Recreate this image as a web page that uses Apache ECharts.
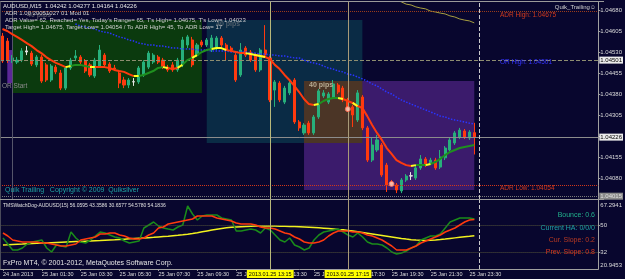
<!DOCTYPE html>
<html>
<head>
<meta charset="utf-8">
<script src="https://cdn.jsdelivr.net/npm/echarts@6.0.0/dist/echarts.min.js"></script>
<style>
html,body{margin:0;padding:0;background:#08062e;overflow:hidden}
#chart{width:625px;height:279px}
</style>
</head>
<body>
<div id="chart"></div>
<script>
// ================= DATA =================
// AUDUSD M15 candles, first bar = 24 Jan 2013 23:30
const barOpen = [
1.04587,1.04569,1.04498,1.04494,1.04501,1.04530,1.04526,1.04484,1.04512,1.04484,
1.04430,1.04476,1.04455,1.04401,1.04473,1.04509,1.04512,1.04498,1.04484,1.04444,
1.04480,1.04519,1.04487,1.04473,1.04455,1.04430,1.04412,1.04423,1.04423,1.04448,
1.04476,1.04494,1.04512,1.04501,1.04476,1.04484,1.04466,1.04484,1.04555,1.04573,
1.04519,1.04566,1.04555,1.04537,1.04544,1.04580,1.04555,1.04544,1.04519,1.04448,
1.04544,1.04530,1.04519,1.04466,1.04537,1.04509,1.04394,1.04419,1.04351,1.04384,
1.04430,1.04280,1.04241,1.04276,1.04241,1.04298,1.04373,1.04351,1.04369,1.04412,
1.04401,1.04359,1.04334,1.04287,1.04369,1.04259,1.04144,1.04180,1.04198,1.04126,
1.04066,1.04055,1.04034,1.04073,1.04087,1.04080,1.04116,1.04148,1.04134,1.04144,
1.04119,1.04152,1.04180,1.04205,1.04226,1.04248,1.04223,1.04242];
const barClose = [
1.04498,1.04501,1.04509,1.04501,1.04534,1.04534,1.04487,1.04512,1.04426,1.04430,
1.04480,1.04459,1.04401,1.04473,1.04501,1.04516,1.04494,1.04462,1.04448,1.04501,
1.04537,1.04484,1.04462,1.04469,1.04419,1.04412,1.04430,1.04424,1.04473,1.04494,
1.04526,1.04519,1.04494,1.04476,1.04466,1.04466,1.04501,1.04573,1.04584,1.04484,
1.04555,1.04555,1.04573,1.04580,1.04580,1.04555,1.04537,1.04537,1.04430,1.04537,
1.04519,1.04501,1.04466,1.04537,1.04519,1.04359,1.04423,1.04359,1.04401,1.04419,
1.04280,1.04259,1.04269,1.04241,1.04298,1.04391,1.04384,1.04380,1.04416,1.04387,
1.04359,1.04330,1.04305,1.04384,1.04259,1.04144,1.04198,1.04216,1.04091,1.04055,
1.04059,1.04037,1.04073,1.04087,1.04088,1.04116,1.04148,1.04126,1.04144,1.04116,
1.04155,1.04187,1.04216,1.04241,1.04251,1.04226,1.04244,1.04226];
const barLow = [
1.04491,1.04491,1.04491,1.04487,1.04494,1.04519,1.04480,1.04476,1.04419,1.04423,
1.04423,1.04451,1.04394,1.04394,1.04466,1.04501,1.04487,1.04455,1.04441,1.04437,
1.04473,1.04476,1.04455,1.04462,1.04401,1.04401,1.04401,1.04409,1.04416,1.04441,
1.04469,1.04487,1.04487,1.04469,1.04459,1.04459,1.04459,1.04476,1.04544,1.04476,
1.04512,1.04548,1.04548,1.04530,1.04537,1.04548,1.04501,1.04530,1.04423,1.04441,
1.04512,1.04494,1.04459,1.04459,1.04512,1.04351,1.04334,1.04351,1.04344,1.04376,
1.04273,1.04248,1.04234,1.04234,1.04234,1.04291,1.04366,1.04344,1.04362,1.04380,
1.04351,1.04316,1.04262,1.04280,1.04251,1.04137,1.04137,1.04173,1.04084,1.04030,
1.04051,1.04026,1.04026,1.04066,1.04073,1.04073,1.04109,1.04119,1.04126,1.04109,
1.04112,1.04144,1.04173,1.04198,1.04219,1.04219,1.04216,1.04164];
const barHigh = [
1.04598,1.04580,1.04519,1.04512,1.04544,1.04551,1.04534,1.04519,1.04519,1.04491,
1.04487,1.04484,1.04466,1.04480,1.04509,1.04537,1.04519,1.04505,1.04491,1.04509,
1.04555,1.04526,1.04494,1.04484,1.04462,1.04441,1.04437,1.04437,1.04480,1.04501,
1.04534,1.04526,1.04519,1.04509,1.04484,1.04494,1.04509,1.04584,1.04591,1.04584,
1.04562,1.04573,1.04580,1.04591,1.04587,1.04587,1.04562,1.04551,1.04526,1.04562,
1.04551,1.04537,1.04526,1.04544,1.04626,1.04516,1.04430,1.04426,1.04409,1.04426,
1.04437,1.04287,1.04276,1.04284,1.04305,1.04398,1.04394,1.04387,1.04430,1.04419,
1.04409,1.04366,1.04341,1.04394,1.04376,1.04266,1.04223,1.04234,1.04205,1.04134,
1.04073,1.04062,1.04080,1.04094,1.04101,1.04123,1.04162,1.04155,1.04152,1.04152,
1.04180,1.04194,1.04223,1.04248,1.04259,1.04255,1.04251,1.04277];
const dojiBars = [5, 27, 84];

// fast moving average and its trend colour (r = falling, y = turning, g = rising)
const fastMA = [
1.04612,1.04605,1.04594,1.04584,1.04573,1.04562,1.04551,1.04537,1.04526,1.04512,
1.04501,1.04491,1.04484,1.04476,1.04480,1.04484,1.04484,1.04480,1.04476,1.04476,
1.04476,1.04476,1.04473,1.04466,1.04462,1.04459,1.04451,1.04444,1.04444,1.04448,
1.04455,1.04462,1.04473,1.04476,1.04473,1.04469,1.04473,1.04484,1.04501,1.04509,
1.04519,1.04530,1.04537,1.04541,1.04544,1.04544,1.04537,1.04534,1.04530,1.04526,
1.04526,1.04523,1.04519,1.04516,1.04512,1.04505,1.04484,1.04469,1.04448,1.04430,
1.04409,1.04387,1.04362,1.04344,1.04341,1.04344,1.04355,1.04362,1.04366,1.04366,
1.04362,1.04355,1.04348,1.04337,1.04330,1.04301,1.04269,1.04241,1.04216,1.04187,
1.04166,1.04144,1.04134,1.04126,1.04123,1.04126,1.04126,1.04126,1.04130,1.04137,
1.04148,1.04162,1.04173,1.04180,1.04187,1.04191,1.04194,1.04198];
const fastMATrend = 'rrrrrrrrrrrrrygggg' + 'yrrrrrrrryggggg' + 'yrrygg' + 'ygggygy' + 'rrrryyry' + 'rrrrrrrrrryggggyrry' + 'rrrrrrrrrrryggy' + 'gggggggggg';

// slow moving average (blue dotted), starts at bar 15
const slowMA = [
null,null,null,null,null,null,null,null,null,null,null,null,null,null,null,
1.04630,1.04623,1.04619,1.04616,1.04612,1.04605,1.04601,1.04598,1.04591,1.04584,
1.04580,1.04573,1.04569,1.04562,1.04559,1.04555,1.04555,1.04551,1.04551,1.04548,
1.04544,1.04544,1.04541,1.04541,1.04541,1.04537,1.04537,1.04537,1.04534,1.04534,
1.04534,1.04534,1.04530,1.04530,1.04530,1.04530,1.04526,1.04526,1.04523,1.04523,
1.04519,1.04519,1.04516,1.04516,1.04512,1.04509,1.04509,1.04501,1.04494,1.04491,
1.04487,1.04480,1.04473,1.04469,1.04462,1.04459,1.04451,1.04448,1.04441,1.04434,
1.04426,1.04416,1.04409,1.04398,1.04387,1.04380,1.04369,1.04359,1.04351,1.04344,
1.04337,1.04330,1.04323,1.04316,1.04309,1.04301,1.04298,1.04291,1.04287,1.04284,
1.04280,1.04276,1.04273];

// long moving average (olive), enters from the top at bar 81
const longMA = [
null,null,null,null,null,null,null,null,null,null,null,null,null,null,null,null,null,null,null,null,
null,null,null,null,null,null,null,null,null,null,null,null,null,null,null,null,null,null,null,null,
null,null,null,null,null,null,null,null,null,null,null,null,null,null,null,null,null,null,null,null,
null,null,null,null,null,null,null,null,null,null,null,null,null,null,null,null,null,null,null,null,
null,1.04716,1.04709,1.04701,1.04698,1.04691,1.04687,1.04684,1.04676,1.04673,1.04669,
1.04666,1.04659,1.04655,1.04648,1.04644,1.04641,1.04634];

// TMSWatchDog indicator lines
const wdGreen = [
41.77,37.74,33.71,33.71,35.05,37.74,39.08,39.75,40.43,35.05,
32.37,37.07,36.40,35.72,45.80,41.77,39.08,38.41,40.43,43.11,
45.80,45.13,43.78,42.44,41.77,39.75,38.41,39.08,39.75,48.49,
50.50,52.52,49.83,48.49,47.81,47.14,49.16,50.50,63.27,57.89,
53.86,56.55,57.22,57.22,57.22,55.20,54.53,53.86,46.47,46.47,
47.14,47.81,47.14,45.13,48.49,47.14,43.78,40.43,39.08,41.77,
37.07,35.72,33.71,35.05,40.43,43.78,45.80,46.47,47.14,47.81,
45.80,43.78,42.44,45.13,42.44,39.08,37.74,37.74,37.07,35.05,
32.37,31.02,31.69,33.04,35.05,36.40,40.43,41.77,43.11,43.11,
44.46,48.49,52.52,53.86,55.20,55.20,55.20,54.58];
const wdRed = [
45.13,43.11,40.43,39.75,39.08,39.08,39.08,39.08,38.41,38.41,
37.74,37.07,36.40,36.40,37.07,37.74,40.43,41.10,41.77,42.44,
44.46,44.46,45.13,45.13,43.78,43.11,41.77,41.10,41.10,41.77,
43.78,45.13,48.49,49.16,51.18,51.85,52.52,53.19,53.86,54.53,
56.55,56.55,56.55,56.55,55.20,54.53,53.86,53.19,51.85,51.18,
51.18,51.18,50.50,49.16,48.49,48.49,47.81,46.47,45.13,44.46,
42.44,41.10,39.08,38.41,38.41,39.08,40.43,43.11,45.13,46.47,
46.47,46.47,45.80,45.80,45.13,43.78,43.11,41.77,40.43,38.41,
36.40,33.71,33.71,33.71,35.05,36.40,38.41,39.75,41.10,42.44,
43.78,45.80,47.14,48.49,50.50,52.52,53.86,54.18];
const wdYellow = [
37.07,37.20,37.40,37.60,37.74,37.90,38.05,38.20,38.35,38.45,
38.60,38.75,38.90,39.05,39.20,39.35,39.50,39.65,39.80,39.95,
40.10,40.30,40.45,40.60,40.80,41.00,41.20,41.40,41.60,41.80,
42.00,42.20,42.45,42.70,42.95,43.25,43.55,43.90,44.30,44.75,
45.30,45.90,46.50,47.10,47.70,48.20,48.60,48.95,49.20,49.40,
49.55,49.70,49.80,49.85,49.85,49.80,49.75,49.70,49.65,49.55,
49.45,49.30,49.15,49.00,48.80,48.60,48.35,48.10,47.85,47.55,
47.30,46.85,46.40,45.95,45.50,45.00,44.50,44.00,43.50,43.00,
42.50,42.00,41.50,41.05,40.65,40.35,40.20,40.15,40.20,40.40,
40.70,41.05,41.45,41.85,42.25,42.65,43.00,43.36];

// axis ticks
const timeTickIndex = [0, 8, 16, 24, 32, 40, 48, 56, 64, 72, 80, 88, 96];
const timeTickLabels = ['24 Jan 2013','25 Jan 01:30','25 Jan 03:30','25 Jan 05:30','25 Jan 07:30',
  '25 Jan 09:30','25 Jan 11:30','25 Jan 13:30','25 Jan 15:30','25 Jan 17:30','25 Jan 19:30',
  '25 Jan 21:30','25 Jan 23:30'];
const priceMin = 1.04005, priceStep = 0.00075, priceMax = 1.0470857;
const indMin = 20.9453, indMax = 67.2941;
const indTickValues = [20.9453, 32, 50, 67.2941];

// chart objects (time index / price)
const levelADRHigh = 1.04675, levelOR = 1.04501, levelBid = 1.04226, levelADRLow = 1.04054, levelBottom = 1.04015;
const vLineIndex = [55, 71];
const vLineLabels = ['2013.01.25 13:15', '2013.01.25 17:15'];
const daySeparatorIndex = 98;
const orStartIndex = 2;
const orBox = [2, 41, 1.04644, 1.04384];
const sessionBox = [42, 74, 1.04644, 1.04205];
const pipsBox = [62, 97, 1.04426, 1.04037];
const orStrip = [1, 2, 1.04537, 1.04419];
const signalIndex = [71, 80];
const signalPrice = [1.04326, 1.04059];

// ================= BUILD =================
const N_CAT = 123;
const cats = [];
for (let i = 0; i < N_CAT; i++) {
  const m = 23 * 60 + 30 + 15 * i;
  const d = 24 + Math.floor(m / 1440);
  const mm = m % 1440;
  cats.push(d + ' Jan ' + String(Math.floor(mm / 60)).padStart(2, '0') + ':' + String(mm % 60).padStart(2, '0'));
}
const tickMap = new Map(timeTickIndex.map((k, j) => [k, timeTickLabels[j]]));

const BULL = '#27b07b', BEAR = '#ff3a0e', DOJI = '#e6e6e6';
const candles = barOpen.map((o, i) => {
  const v = [o, barClose[i], barLow[i], barHigh[i]];
  if (dojiBars.includes(i)) return { value: v, itemStyle: { color: DOJI, color0: DOJI, borderColor: DOJI, borderColor0: DOJI } };
  return v;
});

function trendPart(code) {
  return fastMA.map((v, i) => {
    const a = fastMATrend[i] === code;
    const b = i > 0 && fastMATrend[i - 1] === code;
    return (a || b) ? v : null;
  });
}

const FONT = 'Liberation Sans';
function box(b, color) {
  return [{ xAxis: b[0], yAxis: b[2], itemStyle: { color: color } }, { xAxis: b[1], yAxis: b[3] }];
}
// intersection of session box and pips box
const overlap = [Math.max(sessionBox[0], pipsBox[0]), Math.min(sessionBox[1], pipsBox[1]),
  Math.min(sessionBox[2], pipsBox[2]), Math.max(sessionBox[3], pipsBox[3])];

const priceTag = (bg, fg) => ({
  show: true, position: 'end', distance: 1, fontSize: 6, fontFamily: FONT,
  color: fg, backgroundColor: bg, padding: [1, 1, 0, 1],
  formatter: p => Number(p.value).toFixed(5)
});

const nulls = cats.map(() => null);

const option = {
  backgroundColor: '#08062e',
  animation: false,
  grid: [
    { left: -2.2, right: 21, top: 2, bottom: 80 },
    { left: -2.2, right: 21, top: 200, bottom: 10 }
  ],
  xAxis: [
    { type: 'category', gridIndex: 0, data: cats, boundaryGap: true,
      axisLine: { show: false }, axisTick: { show: false }, axisLabel: { show: false }, splitLine: { show: false } },
    { type: 'category', gridIndex: 1, data: cats, boundaryGap: true,
      axisLine: { show: true, lineStyle: { color: '#a0a0a0', width: 1 } },
      axisTick: { show: true, length: 2, alignWithLabel: true, interval: i => tickMap.has(i), lineStyle: { color: '#a0a0a0' } },
      axisLabel: { show: true, interval: i => tickMap.has(i), formatter: (v, i) => tickMap.get(i) || '',
        align: 'left', margin: 2, fontSize: 5.5, fontFamily: FONT, color: '#dcdcdc' },
      splitLine: { show: false } }
  ],
  yAxis: [
    { type: 'value', gridIndex: 0, position: 'right', min: priceMin, max: priceMax, interval: priceStep,
      axisLine: { show: true, lineStyle: { color: '#a0a0a0' } },
      axisTick: { show: true, length: 2, lineStyle: { color: '#a0a0a0' } },
      axisLabel: { show: true, margin: 2, fontSize: 6, fontFamily: FONT, color: '#dcdcdc',
        showMinLabel: false, showMaxLabel: false, formatter: v => v.toFixed(5) },
      splitLine: { show: false } },
    { type: 'value', gridIndex: 1, position: 'right', min: indMin, max: indMax,
      axisLine: { show: true, lineStyle: { color: '#a0a0a0' } },
      axisTick: { show: true, length: 2, customValues: [32, 50], lineStyle: { color: '#a0a0a0' } },
      axisLabel: { show: true, margin: 2, fontSize: 6, fontFamily: FONT, color: '#dcdcdc',
        customValues: indTickValues,
        formatter: v => v === indMax ? '{t|' + v + '}' : (v === indMin ? '{b|' + v + '}' : String(v)),
        rich: { t: { padding: [10, 0, 0, 0], fontSize: 6, color: '#dcdcdc' }, b: { padding: [0, 0, 8, 0], fontSize: 6, color: '#dcdcdc' } } },
      splitLine: { show: false } }
  ],
  series: [
    { name: 'boxes', type: 'line', xAxisIndex: 0, yAxisIndex: 0, data: nulls, z: 1, silent: true,
      markArea: { silent: true, data: [
        box(orBox, '#0b3a0e'),
        box(sessionBox, '#0a2b45'),
        box(pipsBox, '#3b1b6c'),
        box(overlap, '#4b3526'),
        box(orStrip, '#5b2797')
      ] } },
    { name: 'levels', type: 'line', xAxisIndex: 0, yAxisIndex: 0, data: nulls, z: 2, silent: true,
      markLine: { silent: true, symbol: ['none', 'none'], animation: false, precision: 5, data: [
        { yAxis: levelADRHigh, lineStyle: { type: 'dotted', color: '#9a3c1a', width: 1 }, label: { show: false } },
        { yAxis: levelOR, lineStyle: { type: 'dashed', color: '#8e8e70', width: 1 }, label: priceTag('#ececec', '#000') },
        { yAxis: levelBid, lineStyle: { type: 'solid', color: '#8c8c8c', width: 1 }, label: priceTag('#ececec', '#000') },
        { yAxis: levelADRLow, lineStyle: { type: 'dotted', color: '#d0361a', width: 1 }, label: { show: false } },
        { yAxis: levelBottom, lineStyle: { type: 'dotted', color: '#7a7a7a', width: 1 }, label: priceTag('#8a8a8a', '#e0e0e0') },
        { xAxis: orStartIndex, lineStyle: { type: 'solid', color: '#55556a', width: 1 }, label: { show: false } },
        { xAxis: vLineIndex[0], lineStyle: { type: 'solid', color: '#b8b87a', width: 1 }, label: { show: false } },
        { xAxis: vLineIndex[1], lineStyle: { type: 'solid', color: '#a89a78', width: 1 }, label: { show: false } },
        { xAxis: daySeparatorIndex, lineStyle: { type: 'dashed', color: '#c8c8c8', width: 1 }, label: { show: false } }
      ] } },
    { name: 'AUDUSD', type: 'candlestick', xAxisIndex: 0, yAxisIndex: 0, z: 3, barWidth: 2.6,
      data: candles,
      itemStyle: { color: BULL, color0: BEAR, borderColor: BULL, borderColor0: BEAR, borderWidth: 1 } },
    { name: 'longMA', type: 'line', xAxisIndex: 0, yAxisIndex: 0, data: longMA, z: 4, symbol: 'none',
      lineStyle: { color: '#a8a040', width: 1 } },
    { name: 'slowMA', type: 'line', xAxisIndex: 0, yAxisIndex: 0, data: slowMA, z: 4, symbol: 'none',
      lineStyle: { color: '#2a34ff', width: 1.5, type: 'dotted' } },
    { name: 'fastMA-r', type: 'line', xAxisIndex: 0, yAxisIndex: 0, data: trendPart('r'), z: 5, symbol: 'none',
      lineStyle: { color: '#ff3a0e', width: 2 } },
    { name: 'fastMA-g', type: 'line', xAxisIndex: 0, yAxisIndex: 0, data: trendPart('g'), z: 5, symbol: 'none',
      lineStyle: { color: '#1f8f1f', width: 2 } },
    { name: 'fastMA-y', type: 'line', xAxisIndex: 0, yAxisIndex: 0, data: trendPart('y'), z: 6, symbol: 'none',
      lineStyle: { color: '#ffff20', width: 2 } },
    { name: 'signals', type: 'scatter', xAxisIndex: 0, yAxisIndex: 0, z: 7, symbol: 'circle', symbolSize: 5,
      data: signalIndex.map((k, j) => [k, signalPrice[j]]),
      itemStyle: { color: '#ffd8c8', borderColor: '#ff6a50', borderWidth: 1 } },
    // indicator window
    { name: 'wdYellow', type: 'line', xAxisIndex: 1, yAxisIndex: 1, data: wdYellow, z: 3, symbol: 'none',
      lineStyle: { color: '#f2f21e', width: 1.5 },
      markLine: { silent: true, symbol: ['none', 'none'], animation: false, data: [
        { yAxis: 50, lineStyle: { type: 'dotted', color: '#55553a', width: 1 }, label: { show: false } },
        { yAxis: 32, lineStyle: { type: 'dotted', color: '#55553a', width: 1 }, label: { show: false } },
        { xAxis: daySeparatorIndex, lineStyle: { type: 'dashed', color: '#c8c8c8', width: 1 }, label: { show: false } }
      ] } },
    { name: 'wdGreen', type: 'line', xAxisIndex: 1, yAxisIndex: 1, data: wdGreen, z: 4, symbol: 'none',
      lineStyle: { color: '#1a8c1a', width: 1.5 } },
    { name: 'wdRed', type: 'line', xAxisIndex: 1, yAxisIndex: 1, data: wdRed, z: 5, symbol: 'none',
      lineStyle: { color: '#ff3a0e', width: 1.5 },
      markLine: { silent: true, symbol: ['none', 'none'], animation: false, z: 20, data: vLineIndex.map((k, j) => ({
        xAxis: k, lineStyle: { type: 'solid', color: j === 0 ? '#b8b87a' : '#a89a78', width: 1 },
        label: { show: true, position: 'start', distance: 1, formatter: vLineLabels[j], fontSize: 5.5, fontFamily: FONT,
          color: '#000', backgroundColor: '#ffff00', padding: [1, 2, 1, 2] }
      })) } }
  ],
  graphic: []
};

const T = (x, y, text, fill, size, align, weight, opacity) => ({
  type: 'text', x: x, y: y, silent: true, z: 100,
  style: { text: text, fill: fill, font: (weight || 'normal') + ' ' + size + 'px "' + FONT + '", "DejaVu Sans", sans-serif',
    align: align || 'left', verticalAlign: 'middle', opacity: opacity == null ? 1 : opacity }
});
const L = (x1, y1, x2, y2, stroke) => ({ type: 'line', silent: true, z: 90, shape: { x1, y1, x2, y2 }, style: { stroke: stroke, lineWidth: 1 } });

option.graphic = [
  L(0, 1.5, 604, 1.5, '#9a9a9a'),
  L(0.5, 1.5, 0.5, 269, '#4a4a5a'),
  L(0, 199.5, 604, 199.5, '#9a9a9a'),
  T(27, 15, '40 pips', '#8a8a8a', 7, 'left', 'bold', 0.55),
  T(216, 24, '40 pips', '#8a8a8a', 7, 'left', 'bold', 0.55),
  T(3, 6, 'AUDUSD,M15  1.04242 1.04277 1.04164 1.04226', '#e8e8e8', 6),
  T(5, 13, 'ADR 1.00 20051027 01 Mod 01', '#d0d0d0', 6),
  T(5, 20, "ADR Value= 62, Reached= Yes, Today's Range= 65, T's High= 1.04675, T's Low= 1.04023", '#d0d0d0', 6),
  T(5, 27.5, 'Target High= 1.04675, Target Low= 1.04054 / To ADR High= 45, To ADR Low= 17', '#d0d0d0', 6),
  T(2, 86, 'OR Start', '#8c8c8c', 6.5),
  T(596, 7, 'Quik_Trailing\u263A', '#d0d0d0', 6, 'right'),
  T(500, 15, 'ADR High: 1.04675', '#d23a1e', 6.5),
  T(500, 62, 'OR High: 1.04501', '#3434ff', 6.5),
  T(309, 85, '40 pips', '#b8ac94', 7, 'left', 'bold'),
  T(500, 188, 'ADR Low: 1.04054', '#d23a1e', 6.5),
  T(5, 190, 'Quik Trailing   Copyright \u00A9 2009  Quiksilver', '#20a2a2', 7),
  T(3, 205.5, 'TMSWatchDog-AUDUSD(15) 56.0595 43.3586 30.6577 54.5780 54.1836', '#e0e0e0', 5),
  T(3, 263, 'FxPro MT4, \u00A9 2001-2012, MetaQuotes Software Corp.', '#e6e6e6', 7),
  T(595, 215, 'Bounce: 0.6', '#22b08c', 7, 'right'),
  T(595, 228, 'Current HA: 0/0/0', '#20a4a4', 7, 'right'),
  T(595, 240, 'Cur. Slope: 0.2', '#b83a22', 7, 'right'),
  T(595, 252, 'Prev. Slope: 0.8', '#d83a20', 7, 'right')
];

const chart = echarts.init(document.getElementById('chart'), null, { renderer: 'canvas', width: 625, height: 279 });
chart.setOption(option);
</script>
</body>
</html>
